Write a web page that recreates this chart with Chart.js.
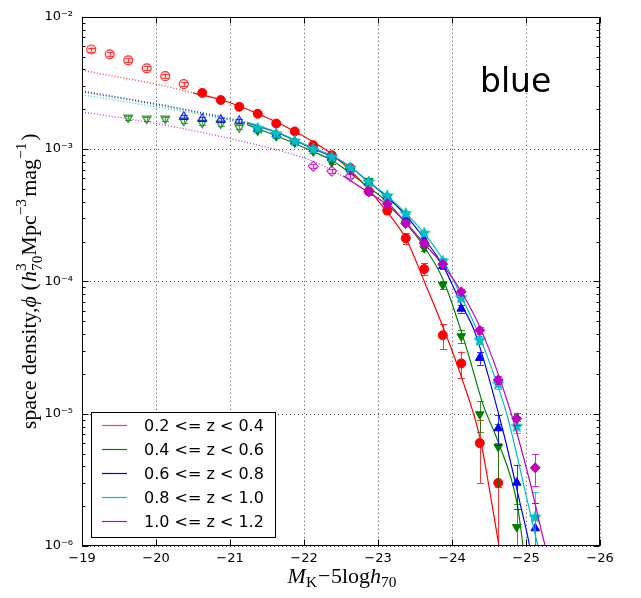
<!DOCTYPE html>
<html>
<head>
<meta charset="utf-8">
<script src="https://cdn.jsdelivr.net/npm/chart.js@4.4.1/dist/chart.umd.min.js"></script>
<style>
  html, body { margin: 0; padding: 0; background: #fff; }
  canvas { display: block; }
</style>
</head>
<body>
<canvas id="lf" width="641" height="598"></canvas>
<script>
// bin centres, M_K - 5 log h70
const mags = [-19.125, -19.375, -19.625, -19.875, -20.125, -20.375, -20.625, -20.875,
  -21.125, -21.375, -21.625, -21.875, -22.125, -22.375, -22.625, -22.875, -23.125,
  -23.375, -23.625, -23.875, -24.125, -24.375, -24.625, -24.875, -25.125];

const xTicks = [-19, -20, -21, -22, -23, -24, -25, -26];
const yTicks = [1e-6, 1e-5, 1e-4, 1e-3, 1e-2];
const yTickLabels = ['10\u207B\u2076', '10\u207B\u2075', '10\u207B\u2074', '10\u207B\u00B3', '10\u207B\u00B2'];
const legendLabels = ['0.2 <= z < 0.4', '0.4 <= z < 0.6', '0.6 <= z < 0.8', '0.8 <= z < 1.0', '1.0 <= z < 1.2'];

// ---------- 0.2 <= z < 0.4 ----------
const redPhi = [5.66e-3, 5.2e-3, 4.69e-3, 4.08e-3, 3.56e-3, 3.1e-3, 2.66e-3, 2.35e-3, 2.09e-3,
  1.85e-3, 1.56e-3, 1.36e-3, 1.07e-3, 9.0e-4, 7.2e-4, 4.8e-4, 3.43e-4, 2.12e-4, 1.24e-4,
  3.92e-5, 2.4e-5, 6.0e-6, 3.0e-6, null, null];
const redErr = [2.0e-4, 1.8e-4, 1.6e-4, 1.4e-4, 1.2e-4, 1.1e-4, 8e-5, 7e-5, 6e-5, 6e-5, 5e-5,
  5e-5, 4e-5, 4e-5, 3e-5, 3e-5, 2e-5, 2e-5, 1.3e-5, 8.5e-6, 5.5e-6, 3.0e-6, 3.0e-6, null, null];
const redOpenBelow = 6;
const redExtM = [-19, -19.5, -20, -20.5];
const redExtPhi = [3.94e-3, 3.5e-3, 3.1e-3, 2.66e-3];
const redFitM = [-20.5, -20.88, -21.38, -21.88, -22.22, -22.38, -22.76, -23.12, -23.39, -23.635,
  -23.88, -24.135, -24.38, -24.51, -24.635, -24.7];
const redFitPhi = [2.66e-3, 2.36e-3, 1.85e-3, 1.36e-3, 1.05e-3, 9.14e-4, 5.83e-4, 3.37e-4, 2.04e-4,
  9.7e-5, 4.5e-5, 1.84e-5, 6.5e-6, 2.6e-6, 1.0e-6, 6e-7];

// ---------- 0.4 <= z < 0.6 ----------
const greenPhi = [null, null, 1.73e-3, 1.70e-3, 1.70e-3, 1.64e-3, 1.58e-3, 1.56e-3, 1.46e-3,
  1.38e-3, 1.25e-3, 1.12e-3, 9.6e-4, 7.96e-4, 6.9e-4, 5.74e-4, 4.3e-4, 2.75e-4, 1.78e-4,
  9.4e-5, 3.85e-5, 9.9e-6, 5.6e-6, 1.39e-6, null];
const greenErr = [null, null, 6e-5, 6e-5, 6e-5, 5.5e-5, 5.5e-5, 5.5e-5, 5e-5, 4e-5, 4e-5,
  3.5e-5, 3e-5, 2.5e-5, 2.2e-5, 2e-5, 1.6e-5, 1.2e-5, 9e-6, 6e-6, 4.5e-6, 2.6e-6, 2.8e-6, 7e-7, null];
const greenOpenBelow = 9;
const greenExtM = [-19, -20, -21, -21.23];
const greenExtPhi = [2.7e-3, 2.17e-3, 1.66e-3, 1.53e-3];
const greenFitM = [-21.23, -21.64, -22.12, -22.38, -22.85, -23.12, -23.38, -23.62, -23.88, -24.2,
  -24.42, -24.62, -24.88, -24.96, -25.0];
const greenFitPhi = [1.53e-3, 1.25e-3, 9.6e-4, 8.2e-4, 5.26e-4, 4.0e-4, 2.74e-4, 1.84e-4, 1.03e-4,
  3.08e-5, 1.17e-5, 6.2e-6, 2.1e-6, 1.0e-6, 7e-7];

// ---------- 0.6 <= z < 0.8 ----------
const bluePhi = [null, null, null, null, null, 1.76e-3, 1.70e-3, 1.67e-3, 1.64e-3, 1.42e-3,
  1.30e-3, 1.14e-3, 1.0e-3, 8.6e-4, 7.1e-4, 5.6e-4, 4.35e-4, 3.1e-4, 2.04e-4, 1.31e-4,
  6.22e-5, 2.64e-5, 7.76e-6, 3.01e-6, 1.36e-6];
const blueErr = [null, null, null, null, null, 6e-5, 6e-5, 6e-5, 6e-5, 4e-5, 3.5e-5, 3e-5,
  3e-5, 2.5e-5, 2.2e-5, 2e-5, 1.6e-5, 1.2e-5, 9e-6, 7e-6, 4e-6, 3e-6, 2.0e-6, 1.1e-6, 7.5e-7];
const blueOpenBelow = 9;
const blueExtM = [-19, -20, -21, -21.23];
const blueExtPhi = [2.75e-3, 2.2e-3, 1.70e-3, 1.58e-3];
const blueFitM = [-21.23, -21.64, -22.12, -22.38, -22.62, -22.86, -23.12, -23.38, -23.62, -23.88,
  -24.12, -24.31, -24.69, -24.92, -25.05, -25.1];
const blueFitPhi = [1.58e-3, 1.33e-3, 1.01e-3, 8.8e-4, 7.4e-4, 5.74e-4, 4.36e-4, 3.14e-4, 2.12e-4,
  1.31e-4, 6.8e-5, 4.12e-5, 7.4e-6, 2.1e-6, 1.0e-6, 7e-7];

// ---------- 0.8 <= z < 1.0 ----------
const cyanPhi = [null, null, null, null, null, null, null, null, null, 1.43e-3, 1.30e-3, 1.15e-3,
  1.0e-3, 8.67e-4, 7.18e-4, 5.64e-4, 4.43e-4, 3.25e-4, 2.31e-4, 1.42e-4, 7.53e-5, 3.59e-5,
  1.68e-5, 8.0e-6, 1.65e-6];
const cyanErr = [null, null, null, null, null, null, null, null, null, 4e-5, 3.5e-5, 3e-5, 3e-5,
  2.5e-5, 2.2e-5, 2e-5, 1.6e-5, 1.2e-5, 9e-6, 7e-6, 4e-6, 2.5e-6, 1.5e-6, 8e-7, 9e-7];
const cyanOpenBelow = 0;
const cyanExtM = [-19, -20, -21, -21.23];
const cyanExtPhi = [2.57e-3, 2.09e-3, 1.67e-3, 1.6e-3];
const cyanFitM = [-21.23, -21.64, -22.12, -22.38, -22.62, -22.86, -23.12, -23.38, -23.62, -23.88,
  -24.12, -24.35, -24.74, -25.01, -25.16, -25.2];
const cyanFitPhi = [1.6e-3, 1.34e-3, 1.02e-3, 8.9e-4, 7.4e-4, 5.7e-4, 4.45e-4, 3.27e-4, 2.32e-4,
  1.45e-4, 7.8e-5, 4.12e-5, 9.9e-6, 2.3e-6, 1.0e-6, 8e-7];

// ---------- 1.0 <= z < 1.2 ----------
const magentaPhi = [null, null, null, null, null, null, null, null, null, null, null, null,
  7.43e-4, 6.82e-4, 6.25e-4, 4.75e-4, 3.87e-4, 2.74e-4, 1.94e-4, 1.35e-4, 8.34e-5, 4.27e-5,
  1.80e-5, 9.2e-6, 3.9e-6];
const magentaErr = [null, null, null, null, null, null, null, null, null, null, null, null,
  2.6e-5, 2.4e-5, 2.2e-5, 1.8e-5, 1.4e-5, 1.1e-5, 8e-6, 6e-6, 4e-6, 2.5e-6, 1.3e-6, 1.0e-6, 1.05e-6];
const magentaOpenBelow = 15;
const magentaExtM = [-19, -20, -21, -22.12, -22.53];
const magentaExtPhi = [1.91e-3, 1.56e-3, 1.2e-3, 8.1e-4, 6.25e-4];
const magentaFitM = [-22.53, -22.86, -23.12, -23.38, -23.62, -23.88, -24.135, -24.41, -24.78,
  -25.05, -25.26, -25.3];
const magentaFitPhi = [6.25e-4, 4.75e-4, 3.8e-4, 2.78e-4, 1.94e-4, 1.33e-4, 8.2e-5, 4.1e-5,
  1.09e-5, 3.1e-6, 1.0e-6, 8.5e-7];

// ---------- helpers ----------
function rgba(rgb, a) { return 'rgba(' + rgb.join(',') + ',' + a + ')'; }

function pts(phi, err, lo, hi) {
  const out = [];
  for (let i = lo; i < hi; i++) {
    if (phi[i] != null) out.push({ x: mags[i], y: phi[i], e: err[i] });
  }
  return out;
}

function line(m, phi) { return m.map((v, i) => ({ x: v, y: phi[i] })); }

function starImage(color, r) {
  const c = document.createElement('canvas');
  const s = Math.ceil(r * 2 + 2);
  c.width = s; c.height = s;
  const g = c.getContext('2d');
  g.beginPath();
  for (let i = 0; i < 10; i++) {
    const rr = i % 2 ? r * 0.45 : r;
    const a = -Math.PI / 2 + i * Math.PI / 5;
    g.lineTo(s / 2 + rr * Math.cos(a), s / 2 + rr * Math.sin(a));
  }
  g.closePath();
  g.fillStyle = color; g.fill();
  g.strokeStyle = color; g.lineWidth = 1; g.stroke();
  return c;
}

const series = [
  { rgb: [255, 0, 0], phi: redPhi, err: redErr, open: redOpenBelow, style: 'circle', rot: 0, r: 4.5,
    extM: redExtM, extPhi: redExtPhi, fitM: redFitM, fitPhi: redFitPhi },
  { rgb: [0, 128, 0], phi: greenPhi, err: greenErr, open: greenOpenBelow, style: 'triangle', rot: 180, r: 5,
    extM: greenExtM, extPhi: greenExtPhi, fitM: greenFitM, fitPhi: greenFitPhi },
  { rgb: [0, 0, 255], phi: bluePhi, err: blueErr, open: blueOpenBelow, style: 'triangle', rot: 0, r: 5,
    extM: blueExtM, extPhi: blueExtPhi, fitM: blueFitM, fitPhi: blueFitPhi },
  { rgb: [0, 191, 191], phi: cyanPhi, err: cyanErr, open: cyanOpenBelow, style: 'star', rot: 0, r: 6,
    extM: cyanExtM, extPhi: cyanExtPhi, fitM: cyanFitM, fitPhi: cyanFitPhi },
  { rgb: [191, 0, 191], phi: magentaPhi, err: magentaErr, open: magentaOpenBelow, style: 'rectRot', rot: 0, r: 5,
    extM: magentaExtM, extPhi: magentaExtPhi, fitM: magentaFitM, fitPhi: magentaFitPhi }
];

const datasets = [];
series.forEach((s, k) => {
  const col = rgba(s.rgb, 1);
  const base = (5 - k) * 10;
  const filledStyle = s.style === 'star' ? starImage(col, s.r) : s.style;
  datasets.push({
    data: line(s.extM, s.extPhi), showLine: true, pointRadius: 0, borderColor: rgba(s.rgb, 0.8),
    borderWidth: 1.3, borderDash: [1, 2], cubicInterpolationMode: 'monotone', order: base + 3
  });
  datasets.push({
    data: line(s.fitM, s.fitPhi), showLine: true, pointRadius: 0, borderColor: col,
    borderWidth: 1.2, cubicInterpolationMode: 'monotone', order: base + 2
  });
  datasets.push({
    data: pts(s.phi, s.err, 0, s.open), showLine: false, pointStyle: s.style, rotation: s.rot,
    pointRadius: s.r, pointBorderWidth: 1.2, borderColor: rgba(s.rgb, 0.8),
    backgroundColor: rgba(s.rgb, 0.12), errColor: rgba(s.rgb, 0.7), order: base + 1
  });
  datasets.push({
    data: pts(s.phi, s.err, s.open, mags.length), showLine: false, pointStyle: filledStyle,
    rotation: s.rot, pointRadius: s.r, pointBorderWidth: 1, borderColor: col,
    backgroundColor: col, errColor: rgba(s.rgb, 0.8), order: base
  });
});

// ---------- plugins ----------
const errorBars = {
  id: 'errorBars',
  beforeDatasetDraw(chart, args) {
    const ds = chart.data.datasets[args.index];
    if (!ds.errColor) return;
    const y = chart.scales.y, ctx = chart.ctx, a = chart.chartArea;
    ctx.save();
    ctx.beginPath();
    ctx.rect(a.left, a.top, a.right - a.left, a.bottom - a.top);
    ctx.clip();
    ctx.strokeStyle = ds.errColor;
    ctx.lineWidth = 1;
    args.meta.data.forEach((el, i) => {
      const d = ds.data[i];
      if (d.e == null) return;
      const top = y.getPixelForValue(d.y + d.e);
      const low = d.y - d.e;
      const bot = low > 0 ? y.getPixelForValue(low) : a.bottom + 20;
      const px = Math.round(el.x) + 0.5;
      ctx.beginPath();
      ctx.moveTo(px, top); ctx.lineTo(px, bot);
      ctx.moveTo(px - 3.5, Math.round(top) + 0.5); ctx.lineTo(px + 3.5, Math.round(top) + 0.5);
      ctx.moveTo(px - 3.5, Math.round(bot) + 0.5); ctx.lineTo(px + 3.5, Math.round(bot) + 0.5);
      ctx.stroke();
    });
    ctx.restore();
  }
};

function drawRich(ctx, segs, size, family, draw) {
  let x = 0, lastStart = 0, maxEnd = 0;
  segs.forEach(sg => {
    const fs = size * (sg.s || 1);
    ctx.font = (sg.it ? 'italic ' : '') + fs + 'px ' + family;
    const w = ctx.measureText(sg.t).width;
    const start = sg.same ? lastStart : x;
    if (draw) ctx.fillText(sg.t, start, (sg.dy || 0) * size);
    lastStart = start;
    maxEnd = Math.max(maxEnd, start + w);
    x = sg.same ? maxEnd : start + w + (sg.gap || 0) * size;
    maxEnd = Math.max(maxEnd, x);
  });
  return x;
}

const yTitle = [
  { t: 'space density,' }, { t: '\u03D5', it: 1 }, { t: ' (', gap: 0.05 }, { t: 'h', it: 1 },
  { t: '70', s: 0.7, dy: 0.25 }, { t: '3', s: 0.7, dy: -0.45, same: 1, gap: 0.12 },
  { t: 'Mpc' }, { t: '\u22123', s: 0.7, dy: -0.45, gap: 0.1 }, { t: 'mag' },
  { t: '\u22121', s: 0.7, dy: -0.45, gap: 0.08 }, { t: ')' }
];
const xTitle = [
  { t: 'M', it: 1 }, { t: 'K', s: 0.7, dy: 0.2, gap: 0.05 }, { t: '\u2212', gap: 0.02 },
  { t: '5log' }, { t: 'h', it: 1 }, { t: '70', s: 0.7, dy: 0.2 }
];

const frame = {
  id: 'frame',
  beforeDatasetsDraw(chart) {
    const { ctx, chartArea: a, scales: { x, y } } = chart;
    ctx.save();
    ctx.strokeStyle = '#444';
    ctx.lineWidth = 1;
    ctx.setLineDash([1, 3]);
    ctx.beginPath();
    xTicks.forEach(v => {
      const p = Math.round(x.getPixelForValue(v)) + 0.5;
      ctx.moveTo(p, a.top); ctx.lineTo(p, a.bottom);
    });
    yTicks.forEach(v => {
      const p = Math.round(y.getPixelForValue(v)) + 0.5;
      ctx.moveTo(a.left, p); ctx.lineTo(a.right, p);
    });
    ctx.stroke();
    ctx.restore();
  },
  afterDatasetsDraw(chart) {
    const { ctx, chartArea: a, scales: { x, y } } = chart;
    const L = Math.round(a.left) + 0.5, R = Math.round(a.right) - 0.5;
    const T = Math.round(a.top) + 0.5, B = Math.round(a.bottom) - 0.5;
    ctx.save();
    ctx.strokeStyle = '#000';
    ctx.lineWidth = 1;
    ctx.beginPath();
    // log minor + major ticks on both sides
    for (let d = 0; d < yTicks.length; d++) {
      const p = Math.round(y.getPixelForValue(yTicks[d])) + 0.5;
      ctx.moveTo(L, p); ctx.lineTo(L + 6, p);
      ctx.moveTo(R, p); ctx.lineTo(R - 6, p);
      if (d === yTicks.length - 1) break;
      for (let m = 2; m <= 9; m++) {
        const q = Math.round(y.getPixelForValue(yTicks[d] * m)) + 0.5;
        ctx.moveTo(L, q); ctx.lineTo(L + 3, q);
        ctx.moveTo(R, q); ctx.lineTo(R - 3, q);
      }
    }
    xTicks.forEach(v => {
      const p = Math.round(x.getPixelForValue(v)) + 0.5;
      ctx.moveTo(p, B); ctx.lineTo(p, B - 6);
      ctx.moveTo(p, T); ctx.lineTo(p, T + 6);
    });
    ctx.stroke();
    ctx.strokeRect(L, T, R - L, B - T);
    ctx.restore();
  },
  afterDraw(chart) {
    const { ctx, chartArea: a } = chart;
    ctx.save();
    ctx.fillStyle = '#000';
    ctx.textBaseline = 'alphabetic';
    ctx.textAlign = 'left';

    // "blue" label
    ctx.font = '33px "DejaVu Sans"';
    ctx.fillText('blue', 480, 92);

    // y title (rotated)
    const fam = '"Liberation Serif", serif';
    let w = drawRich(ctx, yTitle, 22, fam, false);
    ctx.save();
    ctx.translate(36, (a.top + a.bottom) / 2);
    ctx.rotate(-Math.PI / 2);
    ctx.translate(-w / 2, 0);
    drawRich(ctx, yTitle, 22, fam, true);
    ctx.restore();

    // x title
    w = drawRich(ctx, xTitle, 22, fam, false);
    ctx.save();
    ctx.translate(342 - w / 2, 583);
    drawRich(ctx, xTitle, 22, fam, true);
    ctx.restore();

    // legend
    const lx = 91.5, ly = 412.5, lw = 184, lh = 125;
    ctx.fillStyle = '#fff';
    ctx.fillRect(lx, ly, lw, lh);
    ctx.strokeStyle = '#000';
    ctx.lineWidth = 1;
    ctx.strokeRect(lx, ly, lw, lh);
    ctx.font = '16px "DejaVu Sans"';
    ctx.textBaseline = 'middle';
    legendLabels.forEach((lab, i) => {
      const cy = 425.5 + i * 24;
      ctx.strokeStyle = rgba(series[i].rgb, i === 0 ? 0.75 : 1);
      ctx.lineWidth = 1.2;
      ctx.beginPath();
      ctx.moveTo(102, cy); ctx.lineTo(127, cy);
      ctx.stroke();
      ctx.fillStyle = '#000';
      ctx.fillText(lab, 144, cy + 1);
    });
    ctx.restore();
  }
};

new Chart(document.getElementById('lf'), {
  type: 'scatter',
  data: { datasets },
  options: {
    responsive: false,
    animation: false,
    devicePixelRatio: 1,
    layout: { padding: { top: 11, right: 41, left: 0, bottom: 0 } },
    plugins: { legend: { display: false }, tooltip: { enabled: false } },
    scales: {
      x: {
        type: 'linear', min: -26, max: -19, reverse: true,
        afterBuildTicks: s => { s.ticks = xTicks.map(v => ({ value: v })); },
        afterFit: s => { s.height = 52; },
        grid: { display: false, drawTicks: false },
        border: { display: false },
        ticks: {
          callback: v => '\u2212' + Math.abs(v),
          font: { family: 'DejaVu Sans', size: 13 }, color: '#000',
          padding: 5, maxRotation: 0, autoSkip: false
        }
      },
      y: {
        type: 'logarithmic', min: 1e-6, max: 1e-2,
        afterBuildTicks: s => { s.ticks = yTicks.map(v => ({ value: v })); },
        afterFit: s => { s.width = 82; },
        grid: { display: false, drawTicks: false },
        border: { display: false },
        ticks: {
          callback: v => yTickLabels[yTicks.findIndex(t => Math.abs(Math.log10(t) - Math.log10(v)) < 1e-6)],
          font: { family: 'DejaVu Sans', size: 13 }, color: '#000',
          padding: 9, autoSkip: false
        }
      }
    }
  },
  plugins: [frame, errorBars]
});
</script>
</body>
</html>
